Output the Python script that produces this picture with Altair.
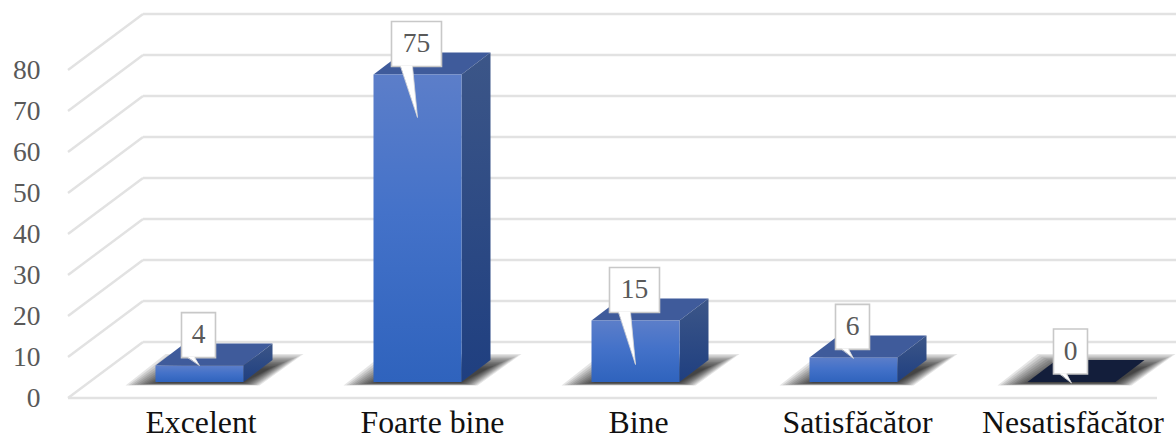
import json

import altair as alt
import pandas as pd

# Survey results
categories = ["Excelent", "Foarte bine", "Bine", "Satisfăcător", "Nesatisfăcător"]
values = [4, 75, 15, 6, 0]
value_ticks = [0, 10, 20, 30, 40, 50, 60, 70, 80]

# Scale of the plot: pixels per category step and per value unit
PX_PER_CAT = 218.0
PX_PER_VAL = 4.1
PLOT_W, PLOT_H = 1108, 398
LEFT_PAD = 68
FIRST_CAT_PX = 199.5

# Horizontal nudges of the category labels relative to their columns
LABEL_NUDGE_PX = [1, 14.5, 2.5, 3.5, 1]


def ux(px):
    return px / PX_PER_CAT


def uy(px):
    return px / PX_PER_VAL


x_domain = [ux(LEFT_PAD - FIRST_CAT_PX), ux(LEFT_PAD + PLOT_W - FIRST_CAT_PX)]
x_scale = alt.Scale(domain=x_domain, nice=False, zero=False)
y_scale = alt.Scale(domain=[0, uy(PLOT_H)], nice=False, zero=False)

# Perspective of the floor and of the boxes
FLOOR_DX, FLOOR_DY = ux(75), uy(56)
BOX_DX, BOX_DY = ux(29), uy(22)
BOX_LIFT = uy(16)
BOX_HALF = ux(44)
X_LEFT, X_RIGHT = x_domain
FLOOR_END = X_LEFT + ux(1089)

FONT = "Liberation Serif"
TEXT_GREY = "#595959"
GRID = "#e2e2e2"

x_axis = alt.Axis(
    title=None,
    values=[i + ux(n) for i, n in enumerate(LABEL_NUDGE_PX)],
    labelExpr=f"{json.dumps(categories, ensure_ascii=False)}[round(datum.value)]",
    domain=False,
    ticks=False,
    grid=False,
    labelFont=FONT,
    labelFontSize=31.8,
    labelColor="#111111",
    labelPadding=9.7,
    labelLimit=400,
    labelOverlap=False,
    labelFlush=False,
    labelBound=False,
)
y_axis = alt.Axis(
    title=None,
    values=value_ticks,
    domain=False,
    ticks=False,
    grid=False,
    labelFont=FONT,
    labelFontSize=27.5,
    labelColor=TEXT_GREY,
    labelPadding=28,
    labelOverlap=False,
    labelFlush=False,
    labelBound=False,
)


def X(field="x"):
    return alt.X(f"{field}:Q", scale=x_scale, axis=x_axis)


def Y(field="y"):
    return alt.Y(f"{field}:Q", scale=y_scale, axis=y_axis)


# Wall and floor lines
grid_rows = []
for t in value_ticks:
    grid_rows.append(dict(x=X_LEFT, x2=X_LEFT + FLOOR_DX, y=t, y2=t + FLOOR_DY))
    grid_rows.append(dict(x=X_LEFT + FLOOR_DX, x2=X_RIGHT, y=t + FLOOR_DY, y2=t + FLOOR_DY))
grid_rows.append(dict(x=X_LEFT, x2=FLOOR_END, y=0, y2=0))
grid = (
    alt.Chart(pd.DataFrame(grid_rows))
    .mark_rule(color=GRID, strokeWidth=2.4)
    .encode(x=X(), x2="x2:Q", y=Y(), y2="y2:Q")
)

# Soft cast shadows: nested translucent parallelograms on the floor
shadow_rows = []
for i, cat in enumerate(categories):
    for level in range(12):
        s = level * 2.2
        key = f"{cat}-{level}"
        shadow_rows.append(dict(key=key, level=level, y=BOX_LIFT - uy(3.5 - s * 0.1),
                                x=i + ux(-74 + s * 1.3), x2=i + ux(60 - s * 0.7)))
        shadow_rows.append(dict(key=key, level=level, y=BOX_LIFT + uy(28 - s * 0.6),
                                x=i + ux(-34 + s * 1.0), x2=i + ux(104 - s * 1.4)))
shadow = (
    alt.Chart(pd.DataFrame(shadow_rows))
    .mark_area(orient="horizontal", color="#000000", opacity=0.1)
    .encode(x=X(), x2="x2:Q", y=Y(), detail="key:N", order="level:O")
)

# Box geometry derived from the values
boxes = pd.DataFrame({"cat": categories, "value": values})
boxes["i"] = range(len(boxes))
boxes["left"] = boxes["i"] - BOX_HALF
boxes["right"] = boxes["i"] + BOX_HALF
boxes["base"] = BOX_LIFT
boxes["top"] = BOX_LIFT + boxes["value"]

top_rows = []
side_rows = []
for b in boxes.itertuples():
    fill = "#3f5b9b" if b.value > 0 else "#131e3b"
    top_rows.append(dict(cat=b.cat, fill=fill, y=b.top, x=b.left, x2=b.right))
    top_rows.append(dict(cat=b.cat, fill=fill, y=b.top + BOX_DY, x=b.left + BOX_DX, x2=b.right + BOX_DX))
    if b.value > 0:
        side_rows.append(dict(cat=b.cat, x=b.right, y=b.base, y2=b.top))
        side_rows.append(dict(cat=b.cat, x=b.right + BOX_DX, y=b.base + BOX_DY, y2=b.top + BOX_DY))

top_face = (
    alt.Chart(pd.DataFrame(top_rows))
    .mark_area(orient="horizontal")
    .encode(x=X(), x2="x2:Q", y=Y(), detail="cat:N", fill=alt.Fill("fill:N", scale=None))
)


def vertical_gradient(stops):
    return alt.Gradient(
        gradient="linear",
        x1=0, x2=0, y1=0, y2=1,
        stops=[alt.GradientStop(color=c, offset=o) for o, c in stops],
    )


side_face = (
    alt.Chart(pd.DataFrame(side_rows))
    .mark_area(orient="vertical", color=vertical_gradient([(0, "#3c5688"), (1, "#1f3f80")]))
    .encode(x=X(), y=Y(), y2="y2:Q", detail="cat:N")
)

front_face = (
    alt.Chart(boxes[boxes["value"] > 0])
    .mark_rect(color=vertical_gradient([(0, "#5c7ec9"), (0.45, "#4472c9"), (1, "#2f63bd")]))
    .encode(x=X("left"), x2="right:Q", y=Y("base"), y2="top:Q")
)

# Data callouts: a white label box above each column with a pointed tail
TAIL_LENGTH = [8, 51, 52, 9, 9]
CALLOUT_GAP = uy(8)
CALLOUT_H = uy(45)
CALLOUT_SHIFT = ux(-1)

callouts = boxes[["cat", "value", "i", "top"]].copy()
half_widths = [ux(25) if v >= 10 else ux(17) for v in values]
callouts["cx"] = callouts["i"] + CALLOUT_SHIFT
callouts["l"] = callouts["cx"] - half_widths
callouts["r"] = callouts["cx"] + half_widths
callouts["y0"] = callouts["top"] + CALLOUT_GAP
callouts["y1"] = callouts["y0"] + CALLOUT_H
callouts["ym"] = (callouts["y0"] + callouts["y1"]) / 2

tail_rows = []
edge_rows = []
for c, length in zip(callouts.itertuples(), TAIL_LENGTH):
    long_tail = length > 20
    base_l = c.l + ux(9 if long_tail else 6)
    base_r = base_l + ux(12 if long_tail else 7)
    tip_x = c.cx + ux(1)
    tip_y = c.y0 - uy(length)
    tail_rows.append(dict(cat=c.cat, y=c.y0 + uy(0.8), x=base_l, x2=base_r))
    tail_rows.append(dict(cat=c.cat, y=tip_y, x=tip_x, x2=tip_x))
    edge_rows.append(dict(x=base_l, x2=tip_x, y=c.y0, y2=tip_y))
    edge_rows.append(dict(x=base_r, x2=tip_x, y=c.y0, y2=tip_y))

callout_box = (
    alt.Chart(callouts)
    .mark_rect(fill="#ffffff", stroke="#c8c8c8", strokeWidth=1.6)
    .encode(x=X("l"), x2="r:Q", y=Y("y0"), y2="y1:Q")
)
callout_tail = (
    alt.Chart(pd.DataFrame(tail_rows))
    .mark_area(orient="horizontal", color="#ffffff")
    .encode(x=X(), x2="x2:Q", y=Y(), detail="cat:N")
)
callout_edge = (
    alt.Chart(pd.DataFrame(edge_rows))
    .mark_rule(color="#d6d6d6", strokeWidth=0.8)
    .encode(x=X(), x2="x2:Q", y=Y(), y2="y2:Q")
)
callout_text = (
    alt.Chart(callouts)
    .mark_text(font=FONT, fontSize=27.5, color=TEXT_GREY, align="center", baseline="middle")
    .encode(x=X("cx"), y=Y("ym"), text=alt.Text("value:Q", format="d"))
)

chart = (
    alt.layer(grid, shadow, top_face, side_face, front_face,
              callout_box, callout_tail, callout_edge, callout_text)
    .properties(
        width=PLOT_W,
        height=PLOT_H,
        background="#ffffff",
        autosize=alt.AutoSizeParams(type="none"),
        padding={"left": LEFT_PAD, "top": 0, "right": 0, "bottom": 37},
    )
    .configure_view(stroke=None)
)

chart.save("out.html", embed_options={"renderer": "svg", "actions": False})
